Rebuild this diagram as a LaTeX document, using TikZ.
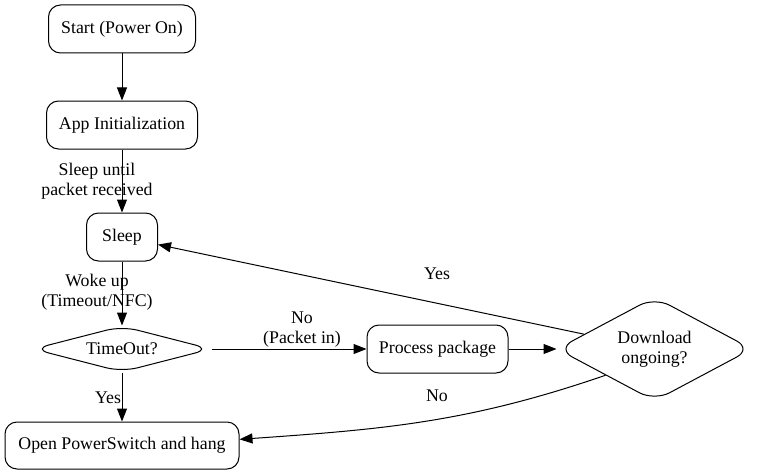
\documentclass[tikz,border=0pt]{standalone}
\usepackage{fontspec}
\setmainfont{Liberation Serif}
\usetikzlibrary{arrows.meta,shapes.geometric}
\begin{document}
\begin{tikzpicture}[x=1pt,y=1pt,
  font=\fontsize{17.8}{20}\selectfont,
  box/.style={draw, line width=1pt, rounded corners=12pt, inner sep=0pt, align=center},
  dia/.style={draw, line width=1pt, shape=diamond, inner sep=0pt, align=center},
  conn/.style={line width=1pt, -{Triangle[length=13pt,width=10pt]}},
  lbl/.style={align=center, inner sep=0pt}]
\useasboundingbox (0,0) rectangle (757,475);
\node[box, minimum width=147pt, minimum height=48pt] (start) at (122,446) {Start (Power On)};
\node[box, minimum width=151pt, minimum height=48pt] (init) at (122,350) {App Initialization};
\node[box, minimum width=71pt, minimum height=48pt] (sleep) at (122,238) {Sleep};
\node[dia, aspect=4, rounded corners=16pt, minimum width=178pt, minimum height=46pt] (to) at (122,126) {TimeOut?};
\node[box, minimum width=234pt, minimum height=47pt] (open) at (122,29.5) {Open PowerSwitch and hang};
\node[box, minimum width=141pt, minimum height=48pt] (proc) at (437.5,126) {Process package};
\node[dia, aspect=2, rounded corners=17pt, minimum width=195pt, minimum height=104pt] (dl) at (654.5,126) {Download\\ongoing?};

\draw[conn] (start) -- (init);
\draw[conn] (init) -- (sleep);
\draw[conn] (sleep) -- (to);
\draw[conn] (to) -- (open);
\draw[conn] (to) -- (proc);
\draw[conn] (proc) -- (dl);
\draw[conn] (dl) -- (sleep);
\draw[conn] (dl.south west) to[out=199,in=4] (open.3);

\node[lbl] (l1) at (97,293.5) {Sleep until\\packet received};
\node[lbl] (l2) at (97,182.5) {Woke up\\(Timeout/NFC)};
\node[lbl] (l3) at (302,145.5) {No\\(Packet in)};
\node[lbl] (l4) at (108,77.5) {Yes};
\node[lbl] (l5) at (437,201.5) {Yes};
\node[lbl] (l6) at (437,79.5) {No};
\end{tikzpicture}
\end{document}
